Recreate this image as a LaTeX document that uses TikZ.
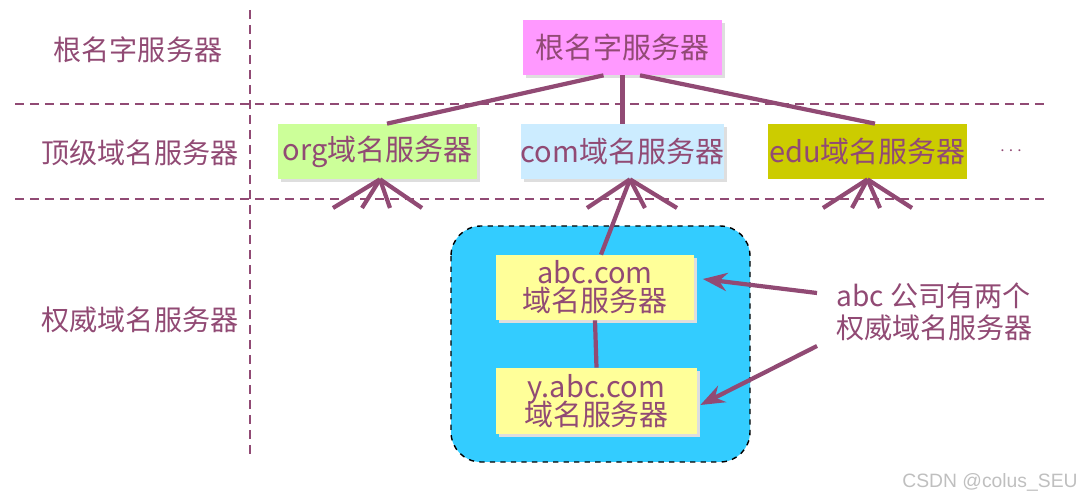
\documentclass[tikz,border=0pt]{standalone}
\usepackage{fontspec}
\setmainfont{Noto Sans CJK SC}
\newfontfamily\markfont{Liberation Sans}
\usepackage{tikz}
\usetikzlibrary{calc, positioning, arrows.meta, shadows}
\usepackage{xcolor}
\definecolor{ink}{RGB}{145, 74, 116}
\definecolor{rootC}{RGB}{255, 153, 255}
\definecolor{orgC}{RGB}{204, 255, 153}
\definecolor{comC}{RGB}{204, 236, 255}
\definecolor{eduC}{RGB}{204, 204, 0}
\definecolor{authC}{RGB}{51, 204, 255}
\definecolor{abcC}{RGB}{255, 255, 153}

\tikzset{
  server/.style={fill=#1, text=ink, inner sep=0pt, minimum width=3.98cm, minimum height=1.1cm,
    font=\fontsize{16.5}{18}\selectfont},
  shadowed/.style={drop shadow={shadow xshift=0.06cm, shadow yshift=-0.06cm, fill=black!13, opacity=1}},
  layer/.style={text=ink, font=\fontsize{16}{18}\selectfont},
  sep/.style={ink, line width=1.1pt, dash pattern=on 0.18cm off 0.12cm},
  link/.style={ink, line width=2.4pt},
}

\begin{document}
\begin{tikzpicture}[x=0.02cm, y=-0.02cm, >=Stealth]
  \useasboundingbox (0,0) rectangle (1080,499);

  % layer separators
  \draw[sep] (250,10) -- (250,455);
  \draw[sep] (15,104) -- (1045,104);
  \draw[sep] (15,199) -- (1045,199);

  % layer names
  \node[layer] (lroot) at (138,50) {根名字服务器};
  \node[layer] (ltop) at (140,153) {顶级域名服务器};
  \node[layer] (lauth) at (140,320) {权威域名服务器};

  % authoritative zone
  \draw[fill=authC, dashed, line width=0.8pt, rounded corners=0.6cm] (451,226) rectangle (750,462);

  % servers
  \node[server=rootC, shadowed] (root) at (622.5,47.5) {根名字服务器};
  \node[server=orgC, shadowed] (org) at (377.5,151.5) {org域名服务器};
  \node[server=comC, shadowed] (com) at (622.5,151.5) {com域名服务器};
  \node[server=eduC] (edu) at (867.5,151.5) {edu域名服务器};
  \node[text=ink, font=\fontsize{11}{12}\selectfont] (dots) at (1011,151) {$\cdots$};
  \node[server=abcC, shadowed, minimum height=1.3cm, align=center] (abc) at (595,287.5)
    {abc.com\\[-2pt]域名服务器};
  \node[server=abcC, shadowed, minimum width=4.02cm, minimum height=1.32cm, align=center] (yabc) at (596.5,401)
    {y.abc.com\\[-2pt]域名服务器};

  % tree links
  \draw[link] ([xshift=-0.38cm]root.south) -- ([xshift=0.19cm]org.north);
  \draw[link] (root.south) -- (com.north);
  \draw[link] ([xshift=0.35cm]root.south) -- ([xshift=0.15cm]edu.north);
  \draw[link] ([xshift=0.15cm]com.south) -- ([xshift=0.12cm]abc.north);
  \draw[link] (abc.south) -- (yabc.north);

  % many arrows from below
  \foreach \n/\dx in {1/-45, 2/-16, 3/12, 4/44} {
    \coordinate (org-\n) at ($(378,208)+(\dx,0)$);
    \coordinate (edu-\n) at ($(868,208)+(\dx,0)$);
    \draw[link] (org-\n) -- ([xshift=0.05cm]org.south);
    \draw[link] (edu-\n) -- (edu.south);
  }
  \foreach \n/\x in {1/587, 2/645, 3/677} {
    \coordinate (com-\n) at (\x,208);
    \draw[link] (com-\n) -- ([xshift=0.15cm]com.south);
  }

  % note
  \node[layer, align=left, anchor=west] (note) at (830,312) {abc 公司有两个\\权威域名服务器};
  \draw[->, link] ([xshift=-0.26cm, yshift=0.38cm]note.west) -- ([xshift=0.16cm, yshift=0.17cm]abc.east);
  \draw[->, link] ([xshift=-0.26cm, yshift=-0.68cm]note.west) -- ([xshift=0.06cm, yshift=-0.08cm]yabc.east);

  \node[text=black!25, font=\fontsize{11}{12}\selectfont\markfont] (mark) at (990,482) {CSDN @colus\_SEU};
\end{tikzpicture}
\end{document}
